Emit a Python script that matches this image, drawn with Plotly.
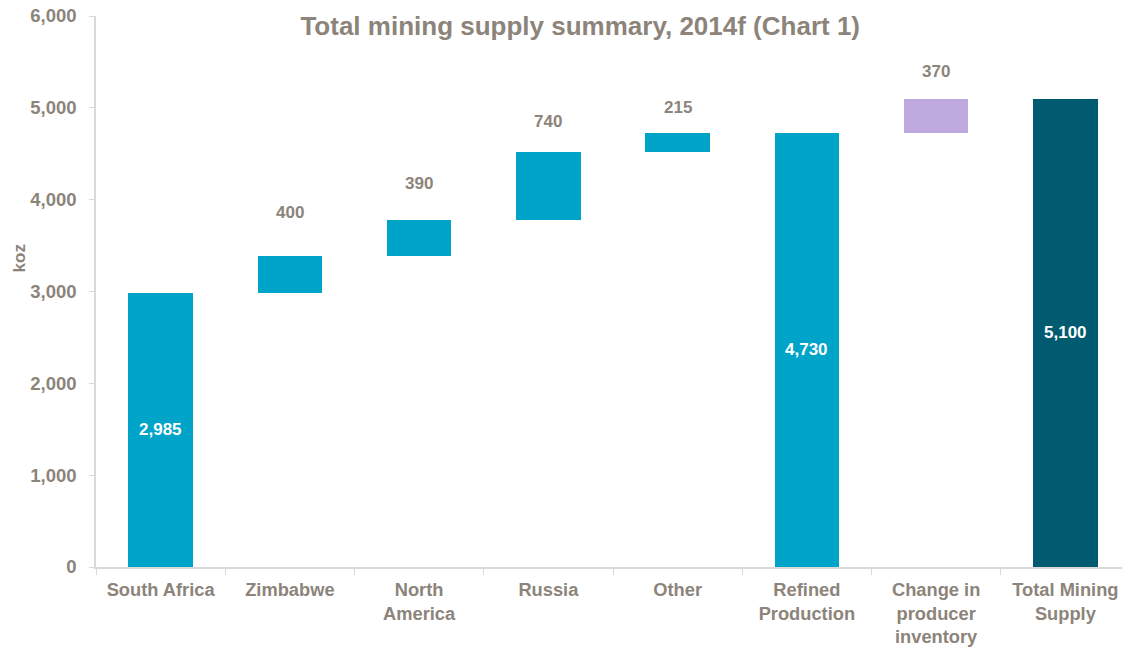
import plotly.graph_objects as go

categories = ["South Africa", "Zimbabwe", "North<br>America", "Russia", "Other",
              "Refined<br>Production", "Change in<br>producer<br>inventory", "Total Mining<br>Supply"]
values = [2985, 400, 390, 740, 215, 4730, 370, 5100]
kinds = ["total", "step", "step", "step", "step", "total", "step", "total"]

# styling
colors = ["#00A4C9", "#00A4C9", "#00A4C9", "#00A4C9", "#00A4C9", "#00A4C9", "#BEA9DF", "#005B70"]
label_shift_px = [0, 44, 37, 31, 25, 0, 27, 0]
TEXT = "#8C847A"
FONT = "Liberation Sans, Arial"

# compute bases for waterfall
bases = []
running = 0
for v, k in zip(values, kinds):
    if k == "total":
        bases.append(0)
        running = v
    else:
        bases.append(running)
        running += v

fig = go.Figure()
fig.add_trace(go.Bar(x=categories, y=bases, marker=dict(color="rgba(0,0,0,0)", line=dict(width=0)),
                     hoverinfo="skip", showlegend=False, width=0.5))
fig.add_trace(go.Bar(x=categories, y=values, marker=dict(color=colors, line=dict(width=0)),
                     showlegend=False, width=0.5))

for c, b, v, k, s in zip(categories, bases, values, kinds, label_shift_px):
    if k == "total":
        fig.add_annotation(x=c, y=b + v / 2, text=f"{v:,}", showarrow=False,
                           font=dict(color="white", size=17, family=FONT, weight="bold"))
    else:
        fig.add_annotation(x=c, y=b + v, text=f"{v:,}", showarrow=False, yshift=s,
                           font=dict(color=TEXT, size=17, family=FONT, weight="bold"))

fig.add_annotation(text="koz", xref="paper", yref="paper", x=0, y=0.56, xshift=-77,
                   xanchor="center", yanchor="middle",
                   textangle=-90, showarrow=False,
                   font=dict(size=17, color=TEXT, family=FONT, weight="bold"))

fig.update_layout(
    barmode="stack",
    width=1122, height=641,
    margin=dict(l=88, r=0, t=8, b=82, autoexpand=False),
    plot_bgcolor="white", paper_bgcolor="white",
    font=dict(family=FONT, color=TEXT),
    title=dict(text="Total mining supply summary, 2014f (Chart 1)",
               x=0.51, xanchor="center", y=0.972, yanchor="middle",
               font=dict(size=26, color=TEXT, family=FONT, weight="bold")),
)
fig.update_yaxes(range=[0, 6000], tickvals=[0, 1000, 2000, 3000, 4000, 5000, 6000],
                 tickformat=",", showgrid=False, zeroline=False, automargin=False,
                 showline=True, linecolor="#D9D9D9", linewidth=1.5,
                 ticks="outside", ticklen=5, tickcolor="#D9D9D9",
                 ticklabelstandoff=9, ticklabeloverflow="allow",
                 tickfont=dict(size=18.5, color=TEXT, family=FONT, weight="bold"))
fig.update_xaxes(range=[-0.5, 7.5], showgrid=False, showline=True, linecolor="#D9D9D9",
                 linewidth=1.5, ticks="outside", tickson="boundaries", ticklen=6,
                 tickcolor="#D9D9D9", ticklabelstandoff=5, automargin=False,
                 ticklabeloverflow="allow",
                 tickfont=dict(size=18.3, color=TEXT, family=FONT, weight="bold"))

fig.write_html("out.html")
